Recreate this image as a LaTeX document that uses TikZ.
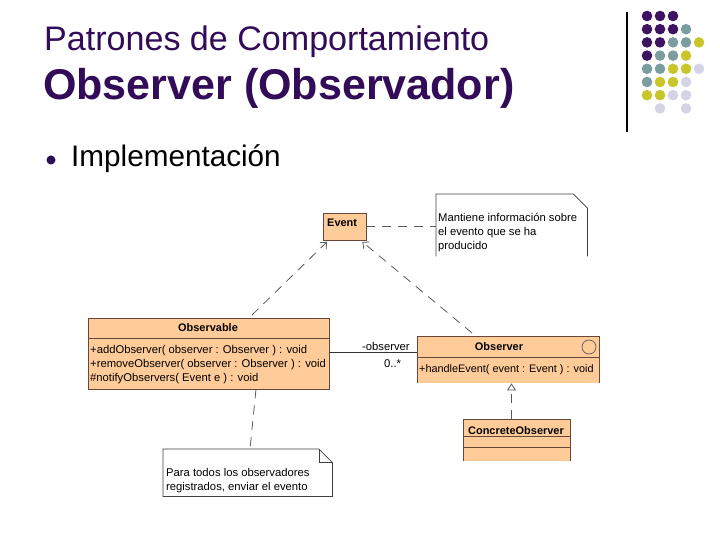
\documentclass[tikz,border=0pt]{standalone}
\usepackage{fontspec}
\setmainfont{Liberation Sans}
\usetikzlibrary{arrows.meta,calc}
\definecolor{ttl}{RGB}{50,12,88}
\definecolor{dP}{RGB}{62,20,98}
\definecolor{dT}{RGB}{122,158,160}
\definecolor{dY}{RGB}{200,198,42}
\definecolor{dL}{RGB}{212,212,230}
\definecolor{dN}{RGB}{255,255,255}
\definecolor{peach}{RGB}{255,204,153}
\definecolor{brd}{RGB}{105,70,55}
\definecolor{lin}{RGB}{90,90,90}
\tikzset{
  clsbox/.style={fill=peach, inner sep=0, anchor=north west},
  brdline/.style={draw=brd, line width=0.8bp},
  utext/.style={font=\fontsize{11.3}{13}\selectfont, inner sep=0, anchor=base west},
  uhead/.style={font=\bfseries\fontsize{11}{13}\selectfont, inner sep=0, anchor=base},
  notebox/.style={inner sep=0, anchor=north west},
  noteline/.style={draw=black!75, line width=0.7bp},
  depline/.style={draw=lin, line width=0.8bp, dash pattern=on 9bp off 7bp, -{Straight Barb[length=5bp,width=9bp]}},
  realline/.style={draw=lin, line width=0.8bp, dash pattern=on 9bp off 7bp, -{Triangle[open,length=7bp,width=9bp,fill=white]}},
  anchline/.style={draw=lin, line width=0.8bp, dash pattern=on 9bp off 7bp},
  assocline/.style={draw=black!80, line width=0.8bp},
}
\begin{document}
\begin{tikzpicture}[x=1bp,y=-1bp]
\useasboundingbox (0,0) rectangle (720,540);
\fill[white] (0,0) rectangle (720,540);

% ---- title block
\node[anchor=base west, inner sep=0, text=ttl, font=\fontsize{34.2}{34}\selectfont] (t1) at (44,51) {Patrones de Comportamiento};
\node[anchor=base west, inner sep=0, text=ttl, font=\bfseries\fontsize{43.2}{43}\selectfont] (t2) at (43,100) {Observer (Observador)};
\node[circle, fill=ttl, inner sep=0, minimum size=9bp] (bul) at (51,160) {};
\node[anchor=base west, inner sep=0, font=\fontsize{29.8}{30}\selectfont] (t3) at (71,167) {Implementación};

% ---- decoration
\draw[black, line width=1.3bp] (627,12) -- (627,132);
\foreach \r/\row in {0/{P,P,P}, 1/{P,P,P,T}, 2/{P,P,T,T,Y}, 3/{P,T,T,Y}, 4/{T,T,Y,Y,L}, 5/{T,Y,Y,L}, 6/{Y,Y,L,L}, 7/{N,L,N,L}}{
  \foreach \c [count=\i from 0] in \row {
      \fill[d\c] ({647+13*\i},{16+13.2*\r}) circle (5.3);
  }
}

% ---- classes
\node[clsbox, minimum width=43bp, minimum height=27bp] (ev) at (323,213) {};
\draw[brdline] (ev.north west) rectangle (ev.south east);
\node[anchor=base west, inner sep=0, font=\bfseries\fontsize{11}{13}\selectfont] (evt) at (327,227) {Event};

\node[clsbox, minimum width=241bp, minimum height=71bp] (obs) at (88,318) {};
\draw[brdline] (obs.north west) rectangle (obs.south east);
\draw[brdline] ($(obs.north west)+(0,20)$) -- ($(obs.north east)+(0,20)$);
\node[uhead] (obsh) at (208,331) {Observable};
\node[utext] (m1) at (90,353.5) {+addObserver( observer : Observer ) : void};
\node[utext] (m2) at (90,367) {+removeObserver( observer : Observer ) : void};
\node[utext] (m3) at (90,381) {\#notifyObservers( Event e ) : void};

\node[clsbox, minimum width=182bp, minimum height=47bp] (obr) at (417,336) {};
\draw[brdline] (obr.south west) -- (obr.north west) -- (obr.north east) -- (obr.south east);
\draw[brdline] ($(obr.north west)+(0,21)$) -- ($(obr.north east)+(0,21)$);
\node[uhead] (obrh) at (499,350) {Observer};
\node[circle, draw=lin, line width=0.7bp, minimum size=14bp, inner sep=0] (ico) at (589,347) {};
\node[utext, font=\fontsize{10.9}{13}\selectfont] (m4) at (419,372) {+handleEvent( event : Event ) : void};

\node[clsbox, minimum width=107bp, minimum height=42bp] (con) at (463,419) {};
\draw[brdline] (con.south west) -- (con.north west) -- (con.north east) -- (con.south east);
\draw[brdline] ($(con.north west)+(0,17)$) -- ($(con.north east)+(0,17)$);
\draw[brdline] ($(con.north west)+(0,28.5)$) -- ($(con.north east)+(0,28.5)$);
\node[uhead] (conh) at (516,434) {ConcreteObserver};

% ---- notes
\node[notebox, minimum width=151bp, minimum height=62bp] (n1) at (436,194) {};
\draw[noteline] (n1.south west) -- (n1.north west) -- ($(n1.north east)+(-14,0)$) -- ($(n1.north east)+(0,14)$) -- (n1.south east);
\node[utext] (n1a) at (438,221.5) {Mantiene información sobre};
\node[utext] (n1b) at (438,235.5) {el evento que se ha};
\node[utext] (n1c) at (438,249.5) {producido};

\node[notebox, minimum width=169bp, minimum height=47bp] (n2) at (163,449) {};
\draw[noteline] (n2.south west) -- (n2.north west) -- ($(n2.north east)+(-13.5,0)$) -- ($(n2.north east)+(0,13.5)$) -- (n2.south east) -- cycle;
\draw[noteline] ($(n2.north east)+(-13.5,0)$) -- ($(n2.north east)+(-13.5,13.5)$) -- ($(n2.north east)+(0,13.5)$);
\node[utext] (n2a) at (166,476) {Para todos los observadores};
\node[utext] (n2b) at (166,490.5) {registrados, enviar el evento};

% ---- connectors
\draw[depline] ($(obs.north west)+(164,-3)$) -- ($(ev.south west)+(4,1.5)$);
\draw[depline] ($(obr.north west)+(55,-3)$) -- ($(ev.south east)+(-4,1.5)$);
\draw[anchline] (ev.east) -- (ev.east -| n1.west);
\draw[assocline] (obs.east |- 0,352) -- (obr.west |- 0,352);
\node[utext] (rl) at (362,350.5) {-observer};
\node[utext] (ml) at (384,367) {0..*};
\draw[realline] ($(con.north west)+(48.5,0)$) -- ($(obr.south west)+(94.5,0)$);
\draw[anchline] ($(obs.south west)+(168,0)$) -- ($(n2.north west)+(87,0)$);
\end{tikzpicture}
\end{document}
